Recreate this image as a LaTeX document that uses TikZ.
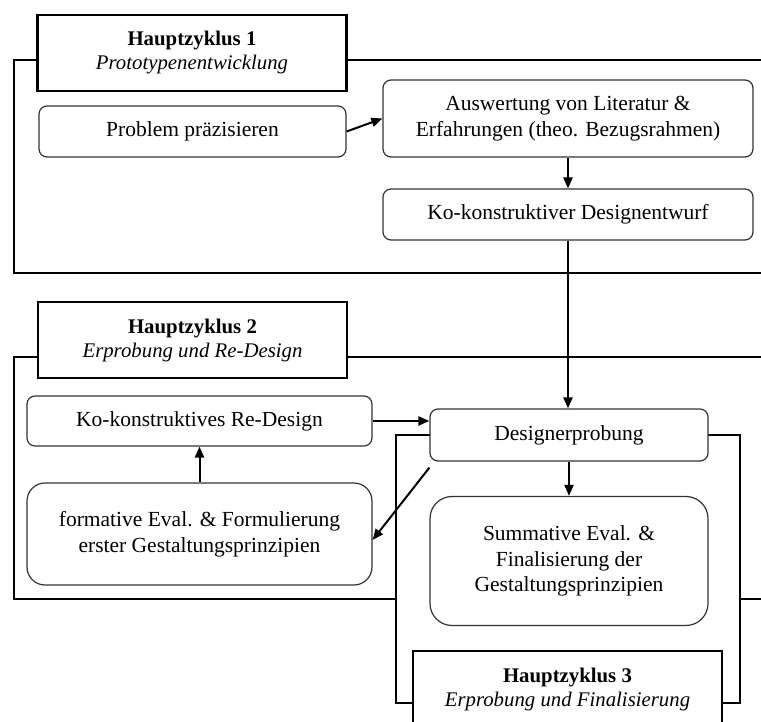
\documentclass[tikz,border=0pt]{standalone}
\usepackage{fontspec}
\setmainfont{Liberation Serif}
\usepackage{tikz}
\usetikzlibrary{positioning}
\usetikzlibrary{arrows.meta}

\begin{document}
\begin{tikzpicture}[x=1pt, y=-1pt,
		stepbox/.style={draw=black!80, line width=1.2pt, rounded corners=8pt, fill=white, align=center, inner sep=0pt, font=\fontsize{21.5}{25.5}\selectfont},
		bigbox/.style={stepbox, rounded corners=18pt},
		titlebox/.style={draw, line width=2.6pt, fill=white, align=center, inner sep=0pt, minimum width=309pt, minimum height=76pt, font=\fontsize{20.8}{24}\selectfont},
		frame/.style={line width=2.6pt},
		arr/.style={line width=2pt, -{Triangle[length=11pt,width=9pt]}}]
	\clip (0,0) rectangle (761,722);
	
	% Rahmen der drei Zyklen
	\draw[frame] (14,60) rectangle (800,273);
	\draw[frame] (14,357) rectangle (800,599);
	\draw[frame, fill=white] (396,435) rectangle (740,703);
	
	\node[titlebox] (T1) at (192,53) {\textbf{Hauptzyklus 1}\\\textit{Prototypenentwicklung}};
	\node[titlebox] (T2) at (192.5,340) {\textbf{Hauptzyklus 2}\\\textit{Erprobung und Re-Design}};
	\node[titlebox] (T3) at (567.5,689) {\textbf{Hauptzyklus 3}\\\textit{Erprobung und Finalisierung}};
	
	\node[stepbox, minimum width=307pt, minimum height=51pt] (prob) at (192.5,131.5) {Problem präzisieren};
	\node[stepbox, minimum width=370pt, minimum height=77pt] (ausw) at (568,118.5) {Auswertung von Literatur \&\\Erfahrungen (theo. Bezugsrahmen)};
	\node[stepbox, minimum width=370pt, minimum height=51pt] (entw) at (568,214.5) {Ko-konstruktiver Designentwurf};
	\node[stepbox, minimum width=345pt, minimum height=50pt] (redes) at (199.5,421) {Ko-konstruktives Re-Design};
	\node[bigbox, minimum width=345pt, minimum height=102pt] (form) at (199.5,534) {formative Eval. \& Formulierung\\erster Gestaltungsprinzipien};
	\node[stepbox, minimum width=278pt, minimum height=52pt] (erpr) at (569,435) {Designerprobung};
	\node[bigbox, rounded corners=22pt, minimum width=278pt, minimum height=129pt] (summ) at (569,561) {Summative Eval. \&\\Finalisierung der\\Gestaltungsprinzipien};
	
	\draw[arr] (prob.east) -- (ausw.west);
	\draw[arr] (ausw.south) -- (entw.north);
	\draw[arr] (entw.south) -- (entw.south |- erpr.north);
	\draw[arr] (redes.east) -- (redes.east -| erpr.west);
	\draw[arr] ([yshift=-6pt]erpr.south west) -- ([yshift=-6pt]form.east);
	\draw[arr] (form.north) -- (redes.south);
	\draw[arr] (erpr.south) -- (summ.north);
\end{tikzpicture}
\end{document}
